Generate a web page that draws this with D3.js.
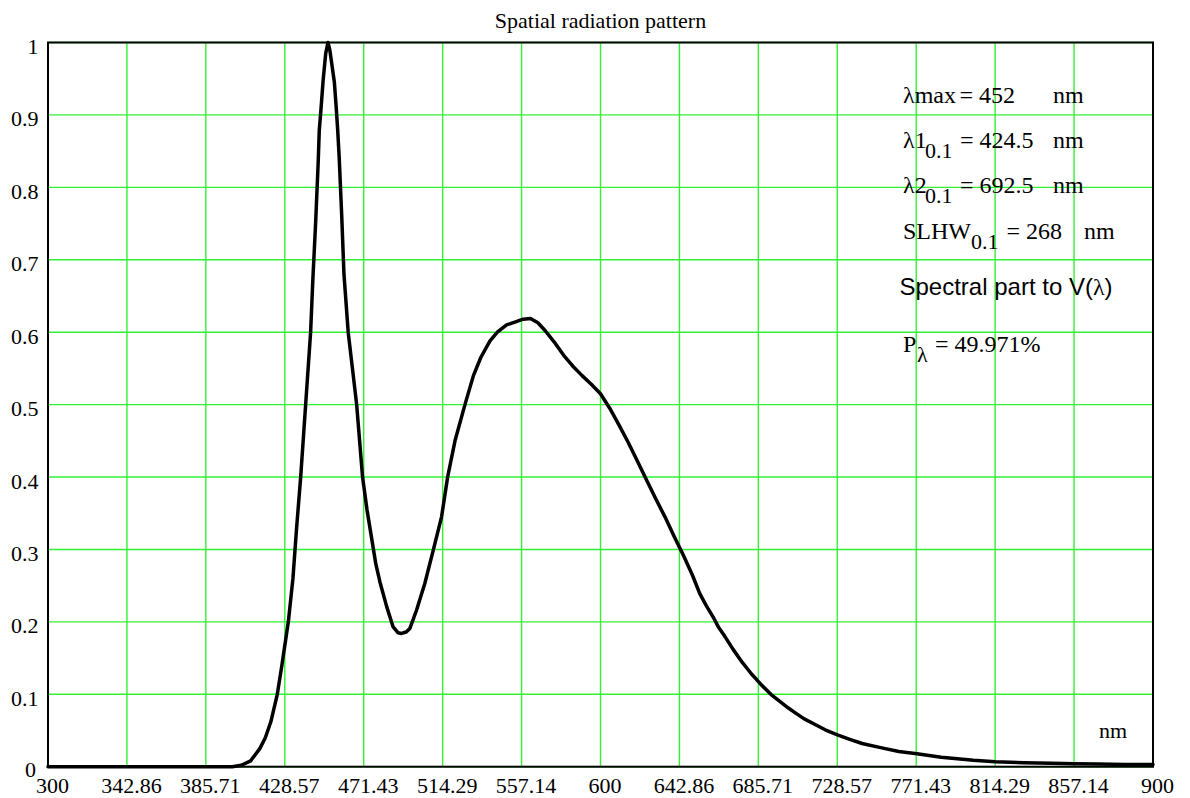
<!DOCTYPE html>
<html>
<head>
<meta charset="utf-8">
<script src="https://cdn.jsdelivr.net/npm/d3@7"></script>
<style>
  body { margin: 0; background: #fff; }
  .serif { font-family: "Liberation Serif", "Times New Roman", serif; fill: #000; }
  .sans { font-family: "Liberation Sans", Arial, sans-serif; fill: #000; }
</style>
</head>
<body>
<div id="chart"></div>
<script>
// wavelength (nm) and relative intensity
var wavelengths = [300, 340, 380, 400, 405, 410, 415, 418, 421, 424.5, 427, 430.5, 433, 435,
    437.2, 439.9, 442.6, 443.8, 445.3, 446.7, 447.3, 448.2, 449.4, 450.8, 452, 453, 454,
    455.5, 456.5, 457.3, 458.1, 459.5, 460.7, 463, 465.3, 467.6, 470.8, 473.2, 475.7, 478,
    480.2, 483.9, 487.4, 490, 492, 494.5, 496.5, 500.1, 504.6, 509.2, 513.7, 517, 521, 526.4,
    531, 535, 540, 544, 549, 553.5, 558, 562, 566, 570, 575, 580, 585, 590, 595, 600, 605,
    610, 615, 620, 625, 630, 635, 640, 645, 650, 653.9, 657.5, 661.1, 664, 667.5, 672, 677,
    682, 687, 692.5, 697, 702, 706, 710.6, 716, 722, 728.6, 735, 742, 752.7, 762, 771.8, 785,
    802.5, 814.3, 830, 845, 857, 870, 885, 900];
var intensity = [0, 0, 0, 0, 0.002, 0.008, 0.025, 0.04, 0.062, 0.1, 0.14, 0.2, 0.26, 0.33,
    0.4, 0.5, 0.6, 0.672, 0.75, 0.834, 0.879, 0.907, 0.948, 0.985, 1.0, 0.99, 0.972,
    0.945, 0.91, 0.879, 0.842, 0.76, 0.68, 0.6, 0.55, 0.5, 0.4, 0.355, 0.316, 0.28,
    0.2555, 0.221, 0.193, 0.185, 0.184, 0.186, 0.191, 0.216, 0.253, 0.299, 0.345, 0.4, 0.45, 0.5,
    0.54, 0.565, 0.588, 0.6, 0.61, 0.614, 0.618, 0.619, 0.613, 0.602, 0.586, 0.568, 0.553, 0.54, 0.528, 0.515, 0.495,
    0.472, 0.448, 0.422, 0.396, 0.37, 0.345, 0.318, 0.292, 0.264, 0.239, 0.222, 0.207, 0.193, 0.18, 0.162, 0.144,
    0.128, 0.114, 0.1, 0.091, 0.081, 0.074, 0.066, 0.059, 0.051, 0.044, 0.038, 0.032, 0.026, 0.021, 0.018, 0.013,
    0.009, 0.007, 0.0055, 0.0048, 0.0042, 0.0038, 0.0032, 0.003];

var xTicks = [300, 342.86, 385.71, 428.57, 471.43, 514.29, 557.14, 600, 642.86, 685.71,
    728.57, 771.43, 814.29, 857.14, 900];
var yTicks = [0, 0.1, 0.2, 0.3, 0.4, 0.5, 0.6, 0.7, 0.8, 0.9, 1];

var title = "Spatial radiation pattern";
var xUnit = "nm";

var spectrum = wavelengths.map(function(w, i) { return {nm: w, v: intensity[i]}; });

var width = 1190, height = 798;

var svg = d3.select("#chart")
    .append("svg")
    .attr("width", width)
    .attr("height", height);

svg.append("rect").attr("width", width).attr("height", height).attr("fill", "#fff");

var x = d3.scaleLinear()
    .domain([300, 900])
    .range([48, 1153]);

var y = d3.scaleLinear()
    .domain([0, 1])
    .range([766.7, 42.5]);

// grid
svg.append("g")
    .selectAll("line")
    .data(xTicks)
    .enter().append("line")
    .attr("x1", function(d) { return x(d); })
    .attr("x2", function(d) { return x(d); })
    .attr("y1", y(0))
    .attr("y2", y(1))
    .attr("stroke", "#33f033")
    .attr("stroke-width", 1.4);

svg.append("g")
    .selectAll("line")
    .data(yTicks)
    .enter().append("line")
    .attr("x1", x(300))
    .attr("x2", x(900))
    .attr("y1", function(d) { return y(d); })
    .attr("y2", function(d) { return y(d); })
    .attr("stroke", "#33f033")
    .attr("stroke-width", 1.4);

// frame
svg.append("rect")
    .attr("x", x(300))
    .attr("y", y(1))
    .attr("width", x(900) - x(300))
    .attr("height", y(0) - y(1))
    .attr("fill", "none")
    .attr("stroke", "#000")
    .attr("stroke-width", 2);

// tick labels
svg.append("g")
    .selectAll("text")
    .data(xTicks)
    .enter().append("text")
    .attr("class", "serif")
    .attr("x", function(d) { return x(d) + 4.5; })
    .attr("y", 793)
    .attr("text-anchor", "middle")
    .attr("font-size", 22)
    .text(function(d) { return d; });

svg.append("g")
    .selectAll("text")
    .data(yTicks)
    .enter().append("text")
    .attr("class", "serif")
    .attr("x", function(d) { return d === 0 ? 36 : 38.5; })
    .attr("y", function(d) { return d === 0 ? 777 : y(d) + 11.5; })
    .attr("text-anchor", "end")
    .attr("font-size", 22)
    .text(function(d) { return d; });

svg.append("text")
    .attr("class", "serif")
    .attr("x", (x(300) + x(900)) / 2)
    .attr("y", 28)
    .attr("text-anchor", "middle")
    .attr("font-size", 22)
    .text(title);

svg.append("text")
    .attr("class", "serif")
    .attr("x", 1113)
    .attr("y", 738)
    .attr("text-anchor", "middle")
    .attr("font-size", 22)
    .text(xUnit);

// spectrum curve
var line = d3.line()
    .x(function(d) { return x(d.nm); })
    .y(function(d) { return y(d.v); });

svg.append("path")
    .datum(spectrum)
    .attr("d", line)
    .attr("fill", "none")
    .attr("stroke", "#000")
    .attr("stroke-width", 3.5)
    .attr("stroke-linejoin", "round")
    .attr("stroke-linecap", "round");

// annotations (Mathcad style result block)
var notes = [
    {t: "\u03bbmax", x: 903, y: 102.5, s: 24},
    {t: "= 452", x: 959.5, y: 102.5, s: 24},
    {t: "nm", x: 1053, y: 102.5, s: 24},
    {t: "\u03bb1", x: 903, y: 147.5, s: 24},
    {t: "0.1", x: 925, y: 157.5, s: 22},
    {t: "= 424.5", x: 960, y: 147.5, s: 24},
    {t: "nm", x: 1053, y: 147.5, s: 24},
    {t: "\u03bb2", x: 903, y: 193, s: 24},
    {t: "0.1", x: 925, y: 202.5, s: 22},
    {t: "= 692.5", x: 960, y: 193, s: 24},
    {t: "nm", x: 1053, y: 193, s: 24},
    {t: "SLHW", x: 903, y: 239, s: 24},
    {t: "0.1", x: 971, y: 248.5, s: 22},
    {t: "= 268", x: 1006.5, y: 239, s: 24},
    {t: "nm", x: 1084, y: 239, s: 24},
    {t: "P", x: 903, y: 352, s: 24},
    {t: "\u03bb", x: 917, y: 362, s: 22},
    {t: "= 49.971%", x: 935, y: 352, s: 24}
];

svg.append("g")
    .selectAll("text")
    .data(notes)
    .enter().append("text")
    .attr("class", "serif")
    .attr("x", function(d) { return d.x; })
    .attr("y", function(d) { return d.y; })
    .attr("font-size", function(d) { return d.s; })
    .text(function(d) { return d.t; });

var vt = svg.append("text")
    .attr("class", "sans")
    .attr("x", 899.5)
    .attr("y", 295)
    .attr("font-size", 24);
vt.append("tspan").text("Spectral part to V(");
vt.append("tspan").attr("class", "serif").text("\u03bb");
vt.append("tspan").text(")");
</script>
</body>
</html>
